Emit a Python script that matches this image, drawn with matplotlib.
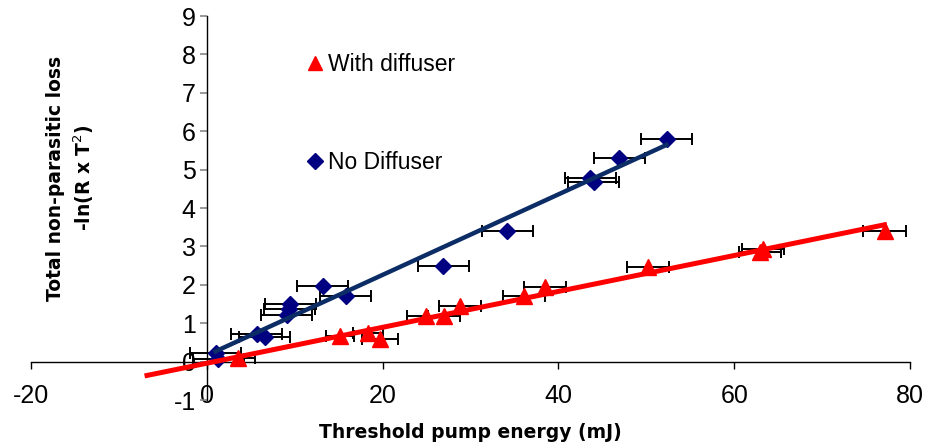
import numpy as np
import matplotlib
matplotlib.use("Agg")
import matplotlib.pyplot as plt

# data
# No Diffuser (navy diamonds)
nd_x = [1.0, 1.3, 5.7, 6.6, 9.1, 9.4, 9.5, 13.2, 15.8, 26.9, 34.2, 43.6, 44.0, 46.9, 52.3]
nd_y = [0.23, 0.08, 0.72, 0.64, 1.22, 1.38, 1.51, 1.98, 1.72, 2.48, 3.39, 4.79, 4.69, 5.29, 5.80]
nd_err = [2.9] * len(nd_x)

# With diffuser (red triangles)
wd_x = [3.6, 15.2, 18.3, 19.7, 24.9, 27.0, 28.8, 36.1, 38.5, 50.2, 62.9, 63.3, 77.1]
wd_y = [0.10, 0.67, 0.74, 0.60, 1.18, 1.20, 1.45, 1.70, 1.94, 2.47, 2.85, 2.92, 3.40]
wd_err = [1.9, 1.6, 1.7, 2.0, 2.1, 1.8, 2.4, 2.4, 2.4, 2.4, 2.4, 2.4, 2.4]

# trend line ranges (mJ)
nd_fit_range = [1.0, 52.3]
wd_fit_range = [-6.8, 77.1]

plt.rcParams['font.family'] = ['Liberation Sans', 'DejaVu Sans']
plt.rcParams['axes.unicode_minus'] = False

fig = plt.figure(figsize=(9.27, 4.48), dpi=100)
ax = fig.add_axes([31/927, 1-400/448, 879/927, 384/448])

# error bars
ax.errorbar(nd_x, nd_y, xerr=nd_err, fmt='none', ecolor='black',
            elinewidth=1.4, capsize=4, capthick=1.4, zorder=2)
ax.errorbar(wd_x, wd_y, xerr=wd_err, fmt='none', ecolor='black',
            elinewidth=1.4, capsize=4, capthick=1.4, zorder=2)

# markers
ax.plot(nd_x, nd_y, 'D', color='#000080', markersize=8.5, linestyle='none',
        label='No Diffuser', zorder=3)
ax.plot(wd_x, wd_y, '^', color='#FF0000', markersize=11, linestyle='none',
        label='With diffuser', zorder=3)

# linear trend lines
a1, b1 = np.polyfit(nd_x, nd_y, 1)
xx1 = np.array(nd_fit_range)
ax.plot(xx1, a1*xx1 + b1, color='#0C2C66', linewidth=3.2, zorder=4)

a2, b2 = np.polyfit(wd_x, wd_y, 1)
xx2 = np.array(wd_fit_range)
ax.plot(xx2, a2*xx2 + b2, color='#FF0000', linewidth=3.6, zorder=4)

# axes
ax.set_xlim(-20, 80)
ax.set_ylim(-1, 9)
ax.set_xticks([-20, 0, 20, 40, 60, 80])
ax.set_yticks(range(-1, 10))
ax.spines['top'].set_visible(False)
ax.spines['right'].set_visible(False)
ax.spines['left'].set_position(('data', 0))
ax.spines['bottom'].set_position(('data', 0))
ax.spines['left'].set_linewidth(1.0)
ax.spines['bottom'].set_linewidth(1.0)
ax.tick_params(axis='x', direction='out', length=5, width=1, labelsize=18, pad=11)
ax.tick_params(axis='y', direction='out', length=5, width=1.2, color='#888888',
               labelsize=18, pad=3)

# axis titles
ax.text(0.5, -0.085, 'Threshold pump energy (mJ)', transform=ax.transAxes,
        ha='center', va='center', fontsize=13.5, fontweight='bold',
        family=['DejaVu Sans'])
fig.text(71/927, 1-178/448, 'Total non-parasitic loss\n-ln(R x T$^2$)',
         rotation=90, ha='center', va='center', fontsize=13.5,
         fontweight='bold', family=['DejaVu Sans'], linespacing=1.35)

# legend
h, l = ax.get_legend_handles_labels()
ax.legend(h[::-1], l[::-1], loc='upper left', bbox_to_anchor=(0.292, 0.958),
          frameon=False, fontsize=16.5, labelspacing=3.3, handlelength=0.6,
          handletextpad=0.25, markerscale=0.9)

plt.savefig('out.png', dpi=100)
